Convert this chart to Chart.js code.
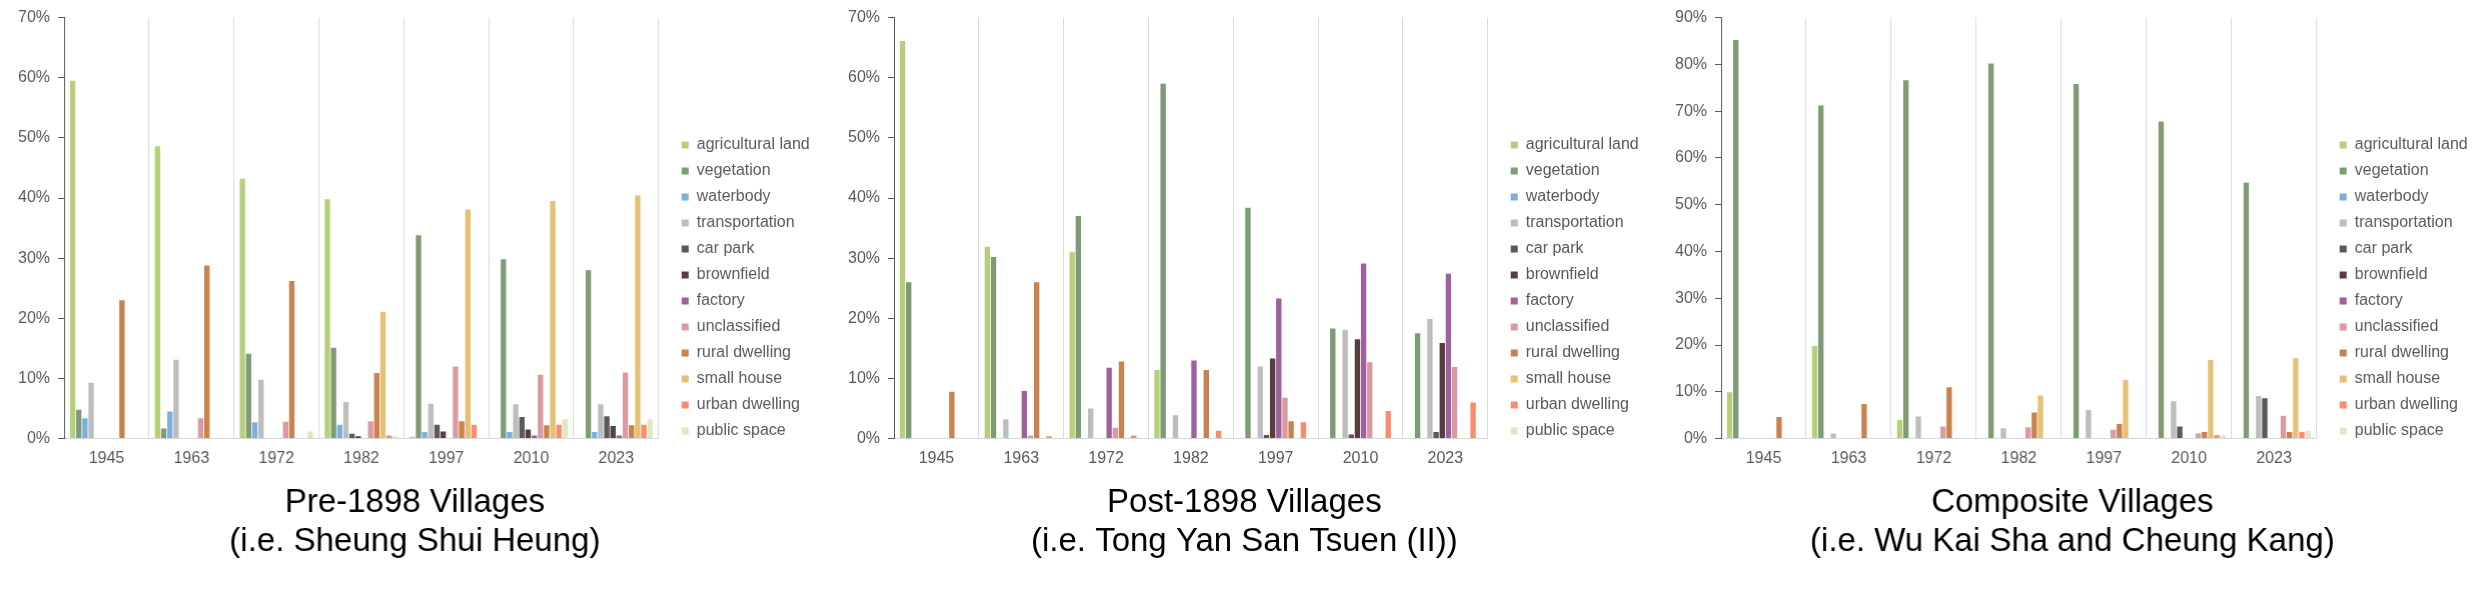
<!DOCTYPE html>
<html lang="en">
<head>
  <meta charset="UTF-8">
  <title>Land use change in villages</title>
  <script src="https://cdn.jsdelivr.net/npm/chart.js"></script>
  <style>
    body { margin: 0; background: #fff; font-family: "Liberation Sans", Arial, sans-serif; }
    .row { display: flex; width: 2480px; height: 590px; }
    .cell { position: relative; width: 826.667px; height: 590px; }
  </style>
</head>
<body>
  <div class="row">
    <div class="cell"><canvas id="pre"></canvas></div>
    <div class="cell"><canvas id="post"></canvas></div>
    <div class="cell"><canvas id="comp"></canvas></div>
  </div>

  <script>
    const years = ['1945', '1963', '1972', '1982', '1997', '2010', '2023'];
    const landUses = ['agricultural land', 'vegetation', 'waterbody', 'transportation', 'car park', 'brownfield',
      'factory', 'unclassified', 'rural dwelling', 'small house', 'urban dwelling', 'public space'];
    const colors = ['#b7cf7b', '#7e9b75', '#7dafdc', '#bdbdbd', '#595959', '#573e3e',
      '#a0609d', '#d99aa0', '#c8814f', '#e5c075', '#f98b6e', '#dfe8c2'];

    // % of village area, one row per land use, one value per year
    const preValues = [
      [59.5, 48.6, 43.2, 39.8, 0.3, 0, 0],
      [4.8, 1.7, 14.1, 15.1, 33.8, 29.8, 28.0],
      [3.4, 4.5, 2.7, 2.3, 1.1, 1.1, 1.1],
      [9.3, 13.1, 9.8, 6.1, 5.8, 5.7, 5.7],
      [0, 0, 0, 0.8, 2.3, 3.6, 3.7],
      [0, 0, 0, 0.4, 1.2, 1.5, 2.1],
      [0, 0, 0, 0, 0, 0.5, 0.5],
      [0, 3.4, 2.8, 2.9, 12.0, 10.6, 11.0],
      [23.0, 28.8, 26.2, 10.9, 2.9, 2.2, 2.2],
      [0, 0, 0, 21.1, 38.1, 39.5, 40.4],
      [0, 0, 0, 0.5, 2.3, 2.3, 2.3],
      [0, 0, 1.2, 0.4, 0, 3.2, 3.2]
    ];
    const postValues = [
      [66.1, 31.9, 31.0, 11.4, 0, 0, 0],
      [26.0, 30.2, 37.0, 59.0, 38.4, 18.3, 17.5],
      [0, 0, 0, 0, 0, 0, 0],
      [0, 3.2, 5.0, 3.9, 12.0, 18.1, 19.9],
      [0, 0, 0, 0, 0.6, 0.7, 1.1],
      [0, 0, 0, 0, 13.3, 16.5, 15.9],
      [0, 7.9, 11.8, 13.0, 23.3, 29.1, 27.4],
      [0, 0.5, 1.8, 0, 6.8, 12.7, 11.9],
      [7.8, 26.0, 12.8, 11.4, 2.9, 0, 0],
      [0, 0, 0, 0, 0, 0, 0],
      [0, 0.4, 0.5, 1.3, 2.7, 4.6, 6.0],
      [0, 0, 0, 0, 0, 0, 0.1]
    ];
    const compValues = [
      [9.9, 19.8, 4.0, 0, 0, 0, 0],
      [85.2, 71.2, 76.6, 80.2, 75.8, 67.8, 54.7],
      [0, 0, 0, 0, 0, 0, 0],
      [0, 1.1, 4.7, 2.2, 6.1, 8.0, 9.1],
      [0, 0, 0, 0, 0, 2.6, 8.6],
      [0, 0, 0, 0, 0, 0, 0],
      [0, 0, 0, 0, 0, 0, 0],
      [0, 0, 2.6, 2.4, 1.9, 1.1, 4.9],
      [4.6, 7.4, 11.0, 5.6, 3.1, 1.4, 1.4],
      [0, 0, 0, 9.2, 12.6, 16.8, 17.2],
      [0, 0, 0, 0, 0, 0.7, 1.4],
      [0, 0, 0, 0, 0, 0.7, 1.7]
    ];

    const preTitle = ['Pre-1898 Villages', '(i.e. Sheung Shui Heung)'];
    const postTitle = ['Post-1898 Villages', '(i.e. Tong Yan San Tsuen (II))'];
    const compTitle = ['Composite Villages', '(i.e. Wu Kai Sha and Cheung Kang)'];

    const FONT = '"Liberation Sans", Arial, sans-serif';
    const GREY = '#595959';
    const LEGEND_GAP = 13;
    const LEGEND_LIFT = 13;

    // push the legend a bit away from the plot and up, like in the Excel original
    const legendGap = {
      id: 'legendGap',
      beforeInit(chart) {
        const fit = chart.legend.fit;
        chart.legend.fit = function () { fit.call(this); this.width += LEGEND_GAP; };
      },
      afterLayout(chart) {
        chart.legend.left += LEGEND_GAP;
        chart.legend.top -= LEGEND_LIFT;
        chart.legend.bottom -= LEGEND_LIFT;
      }
    };

    function makeChart(id, values, title, yMax, padLeft, padRight) {
      const datasets = landUses.map((name, i) => ({
        label: name,
        data: values[i],
        backgroundColor: colors[i],
        borderWidth: 0,
        categoryPercentage: 0.872,
        barPercentage: 0.87
      }));

      return new Chart(document.getElementById(id), {
        type: 'bar',
        data: { labels: years, datasets },
        plugins: [legendGap],
        options: {
          responsive: true,
          maintainAspectRatio: false,
          animation: false,
          layout: { padding: { left: padLeft, right: padRight, top: 12, bottom: 0 } },
          plugins: {
            tooltip: { enabled: false },
            legend: {
              position: 'right',
              align: 'center',
              labels: {
                boxWidth: 7,
                boxHeight: 7,
                padding: 10,
                color: GREY,
                font: { family: FONT, size: 16 }
              }
            },
            title: {
              display: true,
              position: 'bottom',
              text: title,
              color: '#000',
              font: { family: FONT, size: 33, weight: 'normal', lineHeight: 1.2 },
              padding: { top: 5, bottom: 28 }
            }
          },
          scales: {
            x: {
              grid: { display: true, color: '#d9d9d9', drawTicks: false, offset: true },
              border: { color: '#d9d9d9' },
              ticks: { color: GREY, font: { family: FONT, size: 16 }, padding: 10 }
            },
            y: {
              min: 0,
              max: yMax,
              grid: { drawOnChartArea: false, drawTicks: true, tickLength: 6, color: GREY },
              border: { color: GREY },
              ticks: {
                stepSize: 10,
                color: GREY,
                padding: 8,
                font: { family: FONT, size: 16 },
                callback: v => v + '%'
              }
            }
          }
        }
      });
    }

    makeChart('pre', preValues, preTitle, 70, 10, 8);
    makeChart('post', postValues, postTitle, 70, 13, 5);
    makeChart('comp', compValues, compTitle, 90, 14, 3);
  </script>
</body>
</html>
